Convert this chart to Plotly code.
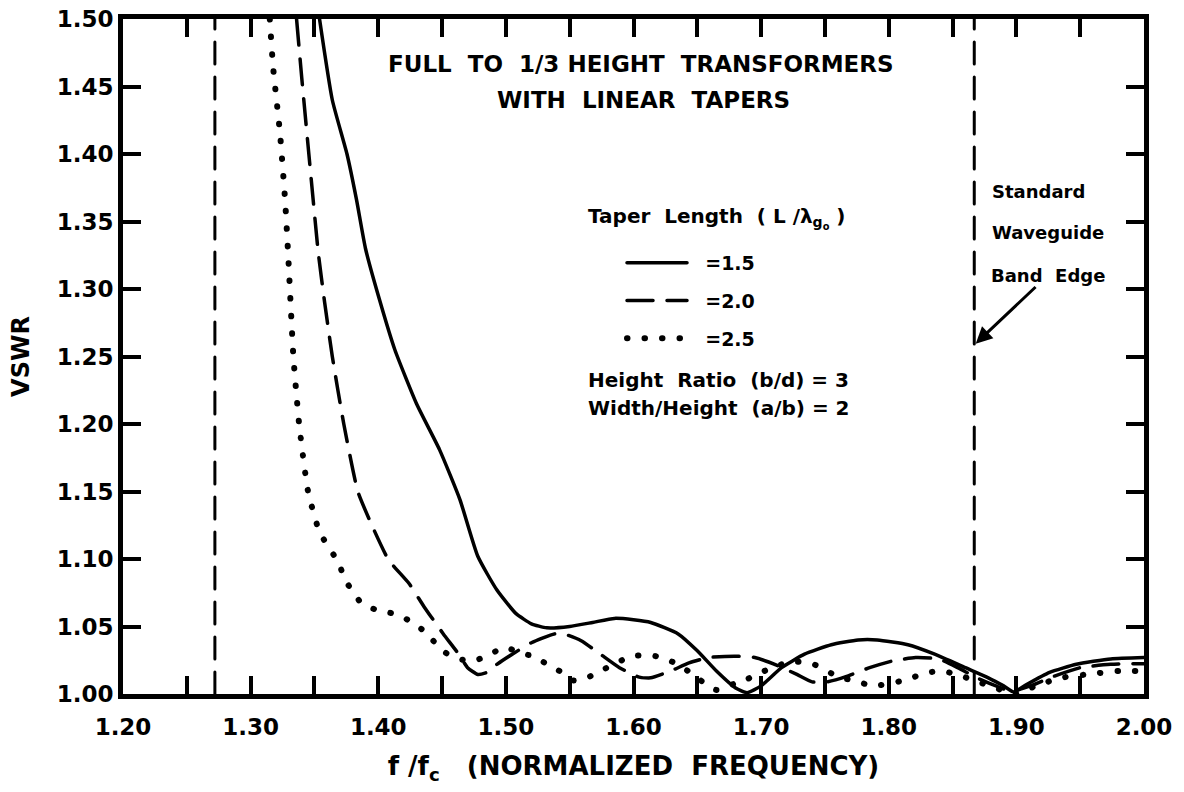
import plotly.graph_objects as go

# ---------------- data ----------------
f_15 = [1.354, 1.364, 1.3755, 1.383, 1.390, 1.401, 1.413, 1.430, 1.448, 1.464, 1.478, 1.493, 1.508,
        1.520, 1.532, 1.550, 1.568, 1.585, 1.600, 1.6135, 1.635, 1.650, 1.665, 1.680, 1.689, 1.700,
        1.716, 1.734, 1.755, 1.776, 1.791, 1.815, 1.836, 1.860, 1.878, 1.890, 1.898, 1.908, 1.926,
        1.947, 1.974, 2.000]
vswr_15 = [1.500, 1.440, 1.400, 1.366, 1.330, 1.292, 1.255, 1.215, 1.181, 1.144, 1.102, 1.077, 1.0595,
           1.052, 1.049, 1.050, 1.053, 1.056, 1.055, 1.053, 1.0445, 1.032, 1.017, 1.0045, 1.001, 1.006,
           1.0195, 1.0295, 1.0365, 1.040, 1.040, 1.0365, 1.0295, 1.0195, 1.012, 1.006, 1.0015, 1.007,
           1.016, 1.022, 1.026, 1.027]

f_20 = [1.336, 1.340, 1.348, 1.353, 1.358, 1.364, 1.373, 1.384, 1.395, 1.408, 1.424, 1.436, 1.451,
        1.463, 1.470, 1.478, 1.485, 1.493, 1.505, 1.520, 1.538, 1.547, 1.559, 1.574, 1.589, 1.6045,
        1.6135, 1.629, 1.6435, 1.6585, 1.680, 1.695, 1.713, 1.728, 1.740, 1.752, 1.767, 1.785, 1.803,
        1.821, 1.839, 1.854, 1.869, 1.884, 1.896, 1.911, 1.929, 1.950, 1.974, 2.000]
vswr_20 = [1.500, 1.457, 1.376, 1.327, 1.290, 1.250, 1.200, 1.150, 1.125, 1.0995, 1.082, 1.0645, 1.0445,
           1.0295, 1.0195, 1.0145, 1.016, 1.022, 1.0295, 1.038, 1.0445, 1.044, 1.0395, 1.0295, 1.0195,
           1.0125, 1.012, 1.017, 1.023, 1.027, 1.028, 1.027, 1.021, 1.0145, 1.009, 1.009, 1.013, 1.0195,
           1.0245, 1.027, 1.026, 1.0195, 1.012, 1.006, 1.002, 1.006, 1.013, 1.0195, 1.022, 1.0225]

f_25 = [1.315, 1.3176, 1.323, 1.327, 1.3295, 1.3335, 1.338, 1.345, 1.354, 1.369, 1.374, 1.380, 1.387,
        1.398, 1.412, 1.424, 1.434, 1.443, 1.452, 1.463, 1.475, 1.4876, 1.499, 1.514, 1.523, 1.532,
        1.544, 1.553, 1.5636, 1.574, 1.597, 1.6105, 1.6225, 1.6345, 1.6466, 1.657, 1.665, 1.680,
        1.689, 1.700, 1.7128, 1.725, 1.740, 1.760, 1.774, 1.788, 1.809, 1.8316, 1.842, 1.855, 1.870,
        1.885, 1.900, 1.915, 1.935, 1.960, 1.980, 2.000]
vswr_25 = [1.500, 1.4645, 1.4155, 1.366, 1.324, 1.250, 1.200, 1.150, 1.120, 1.097, 1.0845, 1.076, 1.067,
           1.0625, 1.0595, 1.0545, 1.048, 1.0395, 1.031, 1.026, 1.0245, 1.0295, 1.0345, 1.0295, 1.028,
           1.022, 1.016, 1.010, 1.012, 1.017, 1.0275, 1.029, 1.027, 1.022, 1.0145, 1.007, 1.003, 1.008,
           1.011, 1.016, 1.021, 1.024, 1.0225, 1.013, 1.0095, 1.006, 1.0095, 1.016, 1.017, 1.014, 1.009,
           1.004, 1.000, 1.006, 1.012, 1.015, 1.017, 1.017]

series_labels = ["=1.5", "=2.0", "=2.5"]
band_edges = [1.272, 1.867]
band_edge_arrow_vswr = 1.2585

x_tickvals = [1.20, 1.30, 1.40, 1.50, 1.60, 1.70, 1.80, 1.90, 2.00]
x_ticktext = ["1.20", "1.30", "1.40", "1.50", "1.60", "1.70", "1.80", "1.90", "2.00"]
y_tickvals = [1.00, 1.05, 1.10, 1.15, 1.20, 1.25, 1.30, 1.35, 1.40, 1.45, 1.50]
y_ticktext = ["1.00", "1.05", "1.10", "1.15", "1.20", "1.25", "1.30", "1.35", "1.40", "1.45", "1.50"]

# ---------------- figure ----------------
W, H = 1184, 792
ML, MR, MT, MB = 123, 40, 19, 98
PW, PH = W - ML - MR, H - MT - MB
FONT = "DejaVu Sans"


def px(x):
    return (x - ML) / PW


def py(y):
    return (H - MB - y) / PH


fig = go.Figure()

styles = [
    dict(color="black", width=3.5, dash="solid", shape="spline", smoothing=0.5),
    dict(color="black", width=3.5, dash="26px,14px", shape="spline", smoothing=0.5),
    dict(color="black", width=6, dash="0.5px,17px", shape="spline", smoothing=0.5),
]
for i, (fx, vy) in enumerate([(f_15, vswr_15), (f_20, vswr_20), (f_25, vswr_25)]):
    fig.add_trace(go.Scatter(
        x=fx, y=vy, mode="lines", line=styles[i], name="\u00a0\u00a0" + series_labels[i],
        legendgroup="g%d" % i, showlegend=True,
    ))

for be in band_edges:
    fig.add_trace(go.Scatter(
        x=[be, be], y=[y_tickvals[0], y_tickvals[-1]], mode="lines",
        line=dict(color="black", width=3, dash="22px,13px"), showlegend=False, hoverinfo="skip",
    ))

axis_common = dict(
    showline=True, linewidth=5, linecolor="black", mirror="allticks",
    ticks="inside", ticklen=18, tickwidth=4, tickcolor="black",
    showgrid=False, zeroline=False, automargin=False,
    tickfont=dict(family=FONT, size=23, color="black", weight="bold"),
)

fig.update_layout(
    width=W, height=H,
    margin=dict(l=ML, r=MR, t=MT, b=MB),
    paper_bgcolor="white", plot_bgcolor="white",
    xaxis=dict(range=[1.2, 2.0], tickmode="array", tickvals=x_tickvals, ticktext=x_ticktext,
               ticklabelstandoff=8,
               minor=dict(ticks="inside", ticklen=18, tickwidth=4, tickcolor="black", dtick=0.05,
                          tick0=1.2, showgrid=False),
               title=dict(text="f /f<sub>c</sub>   (NORMALIZED  FREQUENCY)",
                          font=dict(family=FONT, size=26, color="black", weight="bold"), standoff=20),
               **axis_common),
    yaxis=dict(range=[1.0, 1.5], tickmode="array", tickvals=y_tickvals, ticktext=y_ticktext,
               title=dict(text="VSWR", font=dict(family=FONT, size=24, color="black", weight="bold"),
                          standoff=22),
               **axis_common),
    showlegend=True,
    legend=dict(x=px(622), y=py(244), xanchor="left", yanchor="top",
                bgcolor="rgba(0,0,0,0)", borderwidth=0, itemwidth=60,
                tracegroupgap=10,
                font=dict(family=FONT, size=19, color="black", weight="bold")),
)

ann_font = dict(family=FONT, size=20, color="black", weight="bold")
side_font = dict(family=FONT, size=18, color="black", weight="bold")
title_font = dict(family=FONT, size=23, color="black", weight="bold")

annotations = [
    dict(text="FULL  TO  1/3 HEIGHT  TRANSFORMERS", x=px(641), y=py(64), font=title_font,
         xanchor="center", yanchor="middle"),
    dict(text="WITH  LINEAR  TAPERS", x=px(643), y=py(100), font=title_font,
         xanchor="center", yanchor="middle"),
    dict(text="Taper  Length  ( L /λ<sub>g<sub>o</sub></sub> )", x=px(586), y=py(218), font=ann_font,
         xanchor="left", yanchor="middle"),
    dict(text="Height  Ratio  (b/d) = 3", x=px(586), y=py(380), font=ann_font,
         xanchor="left", yanchor="middle"),
    dict(text="Width/Height  (a/b) = 2", x=px(586), y=py(408), font=ann_font,
         xanchor="left", yanchor="middle"),
    dict(text="Standard", x=px(990), y=py(192), font=side_font, xanchor="left", yanchor="middle"),
    dict(text="Waveguide", x=px(990), y=py(233), font=side_font, xanchor="left", yanchor="middle"),
]
for a in annotations:
    a.update(xref="paper", yref="paper", showarrow=False)
    fig.add_annotation(**a)

# "Band Edge" label carries the arrow pointing at the band-edge line
fig.add_annotation(text="Band  Edge", x=band_edges[1], y=band_edge_arrow_vswr, xref="x", yref="y",
                   ax=74, ay=-70, axref="pixel", ayref="pixel",
                   font=side_font, showarrow=True, arrowhead=2, arrowsize=1.1,
                   arrowwidth=3, arrowcolor="black", standoff=2)

post = ("document.body.style.margin='0';document.body.style.padding='0';"
        "var s=document.createElement('style');"
        "s.innerHTML='body{margin:0;} .js-line{stroke-linecap:round;}';"
        "document.head.appendChild(s);")
fig.write_html("out.html", post_script=post, config={"displayModeBar": False})
